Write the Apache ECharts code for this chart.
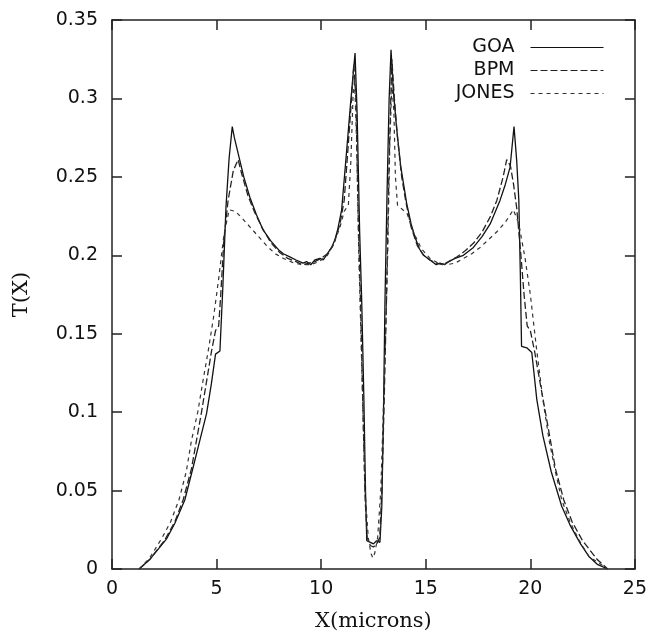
<!DOCTYPE html>
<html><head><meta charset="utf-8">
<script src="https://cdn.jsdelivr.net/npm/echarts@6/dist/echarts.min.js"></script>
<style>html,body{margin:0;padding:0;background:#fff}#c{width:650px;height:637px}</style>
</head><body><div id="c"></div>
<script>
const seriesNames = ['GOA', 'BPM', 'JONES'];
const xTicks = [0, 5, 10, 15, 20, 25];
const yTicks = [0, 0.05, 0.1, 0.15, 0.2, 0.25, 0.3, 0.35];

const goaX = [1.3,1.8,2.6,3.0,3.48,3.9,4.2,4.52,4.75,4.95,5.16,5.3,5.45,5.6,5.75,5.85,6.03,6.3,6.59,6.9,7.23,7.6,8.0,8.19,8.5,8.8,9.14,9.3,9.5,9.7,9.94,10.1,10.3,10.5,10.66,10.8,10.98,11.22,11.4,11.62,11.72,11.84,11.94,12.04,12.12,12.18,12.35,12.5,12.65,12.81,12.9,12.98,13.05,13.15,13.25,13.34,13.45,13.6,13.8,14.09,14.3,14.5,14.7,14.9,15.1,15.3,15.5,15.68,15.9,16.1,16.4,16.8,17.28,17.7,18.08,18.3,18.55,18.8,19.03,19.22,19.35,19.45,19.52,19.58,19.83,20.07,20.31,20.6,21.0,21.5,21.9,22.4,22.8,23.2,23.7];
const goaY = [0,0.006,0.019,0.029,0.044,0.066,0.082,0.099,0.118,0.137,0.139,0.18,0.231,0.262,0.282,0.275,0.265,0.25,0.237,0.226,0.216,0.209,0.203,0.201,0.199,0.197,0.195,0.196,0.194,0.197,0.198,0.197,0.201,0.205,0.21,0.217,0.229,0.267,0.296,0.329,0.29,0.215,0.17,0.11,0.05,0.018,0.017,0.016,0.018,0.017,0.04,0.1,0.17,0.24,0.3,0.331,0.305,0.282,0.257,0.233,0.22,0.211,0.204,0.2,0.198,0.196,0.194,0.195,0.194,0.196,0.198,0.2,0.205,0.212,0.22,0.227,0.235,0.245,0.256,0.282,0.26,0.235,0.19,0.142,0.141,0.138,0.108,0.085,0.062,0.04,0.028,0.016,0.008,0.003,0];

const bpmX = [1.3,1.8,2.5,3.0,3.4,3.8,4.04,4.28,4.55,4.76,4.95,5.1,5.2,5.35,5.55,5.8,6.03,6.2,6.5,6.8,7.2,7.6,8.0,8.4,8.8,9.1,9.4,9.7,10.0,10.3,10.6,10.9,11.1,11.25,11.4,11.56,11.66,11.78,11.9,12.0,12.1,12.2,12.35,12.5,12.65,12.8,12.9,13.0,13.12,13.25,13.38,13.5,13.65,13.85,14.05,14.3,14.6,14.9,15.2,15.5,15.8,16.1,16.5,16.9,17.3,17.7,18.1,18.4,18.7,18.87,19.05,19.2,19.35,19.55,19.7,19.85,20.0,20.2,20.45,20.72,20.96,21.2,21.6,22.0,22.5,23.2,23.7];
const bpmY = [0,0.006,0.018,0.03,0.044,0.064,0.082,0.1,0.122,0.139,0.152,0.155,0.175,0.21,0.235,0.254,0.261,0.252,0.238,0.228,0.217,0.208,0.202,0.198,0.196,0.194,0.195,0.196,0.198,0.201,0.207,0.22,0.235,0.262,0.29,0.322,0.3,0.22,0.16,0.1,0.045,0.02,0.015,0.014,0.016,0.02,0.05,0.1,0.17,0.26,0.325,0.3,0.275,0.25,0.234,0.218,0.206,0.2,0.197,0.195,0.194,0.196,0.199,0.203,0.208,0.215,0.225,0.235,0.25,0.261,0.257,0.245,0.23,0.2,0.175,0.155,0.152,0.139,0.12,0.1,0.082,0.064,0.044,0.03,0.018,0.006,0];

const jonesX = [1.3,1.8,2.4,2.8,3.2,3.55,3.8,4.1,4.35,4.6,4.85,5.1,5.35,5.6,5.9,6.2,6.6,7.0,7.4,7.8,8.2,8.7,9.1,9.5,9.9,10.3,10.6,10.9,11.1,11.3,11.42,11.52,11.6,11.7,11.8,11.9,12.0,12.1,12.25,12.38,12.47,12.56,12.7,12.85,12.97,13.08,13.18,13.28,13.38,13.48,13.55,13.65,13.9,14.1,14.4,14.8,15.2,15.6,16.0,16.4,16.8,17.2,17.6,18.0,18.4,18.8,19.19,19.45,19.75,20.0,20.3,20.6,20.9,21.2,21.5,21.9,22.3,22.8,23.7];
const jonesY = [0,0.007,0.02,0.03,0.044,0.062,0.082,0.1,0.12,0.139,0.16,0.185,0.213,0.229,0.228,0.224,0.218,0.212,0.206,0.201,0.198,0.195,0.194,0.194,0.196,0.2,0.207,0.218,0.228,0.232,0.26,0.3,0.312,0.27,0.2,0.15,0.1,0.05,0.02,0.01,0.007,0.01,0.02,0.05,0.1,0.15,0.2,0.27,0.31,0.29,0.25,0.232,0.229,0.227,0.215,0.204,0.198,0.195,0.194,0.195,0.198,0.201,0.205,0.21,0.215,0.221,0.229,0.22,0.198,0.175,0.14,0.108,0.082,0.062,0.044,0.03,0.019,0.008,0];

function pairs(xs, ys){ return xs.map((x,i)=>[x, ys[i]]); }

const sans = 'DejaVu Sans';
const serif = 'DejaVu Serif';
const fmtY = v => String(+v.toFixed(2));

const chart = echarts.init(document.getElementById('c'), null, {renderer:'canvas'});
const axLine = {show:true, onZero:false, lineStyle:{color:'#222', width:1.5}};
const ticks = {show:true, inside:true, length:10, lineStyle:{color:'#222', width:1.5}};
chart.setOption({
  animation:false,
  backgroundColor:'#fff',
  grid:{left:112, right:15, top:20, bottom:68},
  legend:{
    orient:'vertical', right:41, top:33, align:'right',
    itemWidth:73, itemHeight:20, itemGap:4,
    data: seriesNames,
    itemStyle:{opacity:0, borderWidth:0},
    lineStyle:{width:1},
    formatter: n => '{t|' + n + '}',
    textStyle:{ rich:{ t:{ width:100, align:'right', fontFamily:sans, fontSize:19, color:'#111', padding:[0,11,0,0] } } }
  },
  xAxis:[
    {type:'value', min:xTicks[0], max:xTicks[xTicks.length-1], interval:5, position:'bottom',
     name:'X(microns)', nameLocation:'middle', nameGap:42,
     nameTextStyle:{fontFamily:serif, fontSize:21, color:'#111'},
     axisLine:axLine, axisTick:ticks, splitLine:{show:false},
     axisLabel:{fontFamily:sans, fontSize:19, color:'#111', margin:11}},
    {type:'value', min:0, max:25, interval:5, position:'top',
     axisLine:axLine, axisTick:ticks, splitLine:{show:false}, axisLabel:{show:false}}
  ],
  yAxis:[
    {type:'value', min:yTicks[0], max:yTicks[yTicks.length-1], interval:0.05, position:'left',
     name:'T(X)', nameLocation:'middle', nameGap:80, nameRotate:90,
     nameTextStyle:{fontFamily:serif, fontSize:21, color:'#111'},
     axisLine:axLine, axisTick:ticks, splitLine:{show:false},
     axisLabel:{fontFamily:sans, fontSize:19, color:'#111', margin:14, formatter:fmtY}},
    {type:'value', min:0, max:0.35, interval:0.05, position:'right',
     axisLine:axLine, axisTick:ticks, splitLine:{show:false}, axisLabel:{show:false}}
  ],
  series:[
    {name:seriesNames[0], type:'line', showSymbol:false, symbol:'none', data:pairs(goaX, goaY),
     lineStyle:{color:'#111', width:1.3, type:'solid'}, itemStyle:{color:'#111'}},
    {name:seriesNames[1], type:'line', showSymbol:false, symbol:'none', data:pairs(bpmX, bpmY),
     lineStyle:{color:'#222', width:1.3, type:[7,3]}, itemStyle:{color:'#222'}},
    {name:seriesNames[2], type:'line', showSymbol:false, symbol:'none', data:pairs(jonesX, jonesY),
     lineStyle:{color:'#333', width:1.2, type:[4,4]}, itemStyle:{color:'#333'}}
  ]
});
</script></body></html>
